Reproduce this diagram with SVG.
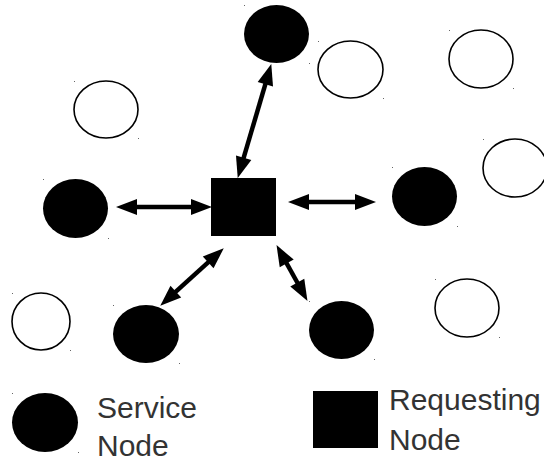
<svg xmlns="http://www.w3.org/2000/svg" width="544" height="462" viewBox="0 0 544 462">
  <style>
    .svc { fill: #000; }
    .idle { fill: #fff; stroke: #000; stroke-width: 1.6; }
    .req { fill: #000; }
    .dot { fill: #666; }
    .link { stroke: #000; stroke-width: 4.5; fill: none; marker-start: url(#head); marker-end: url(#head); }
    .label { font-family: "Liberation Sans", Arial, sans-serif; font-size: 30px; fill: #333; }
  </style>
  <defs>
    <marker id="head" markerUnits="userSpaceOnUse" markerWidth="22" markerHeight="18" refX="10" refY="0" viewBox="0 -9 22 18" orient="auto-start-reverse" overflow="visible">
      <path d="M0,-8 L21,0 L0,8 z" fill="#000"/>
    </marker>
  </defs>
  <rect width="544" height="462" fill="#fff"/>

  <!-- connectors: double-headed links from the requesting node -->
  <g id="connectors">
    <line class="link" x1="240.83" y1="167.41" x2="268.17" y2="74.59"/>
    <line class="link" x1="127" y1="207" x2="201" y2="207"/>
    <line class="link" x1="299" y1="202" x2="365" y2="202"/>
    <line class="link" x1="168.42" y1="298.3" x2="215.58" y2="255.7"/>
    <line class="link" x1="281.86" y1="254.74" x2="302.14" y2="291.26"/>
  </g>

  <!-- requesting node -->
  <g id="requesting">
    <rect class="req" x="211" y="178" width="65" height="58"/>
  </g>

  <!-- service nodes -->
  <g id="service-top">
    <ellipse class="svc" cx="276.5" cy="34" rx="32.5" ry="29"/>
    <rect class="dot" x="244" y="5" width="1" height="1"/><rect class="dot" x="309" y="63" width="1" height="1"/>
  </g>
  <g id="service-left">
    <ellipse class="svc" cx="75.5" cy="208.5" rx="32.5" ry="29.5"/>
    <rect class="dot" x="43" y="179" width="1" height="1"/><rect class="dot" x="108" y="238" width="1" height="1"/>
  </g>
  <g id="service-right">
    <ellipse class="svc" cx="424.5" cy="196.5" rx="32.5" ry="29.5"/>
    <rect class="dot" x="392" y="167" width="1" height="1"/><rect class="dot" x="457" y="226" width="1" height="1"/>
  </g>
  <g id="service-bottom-left">
    <ellipse class="svc" cx="146" cy="334" rx="33" ry="29"/>
    <rect class="dot" x="113" y="305" width="1" height="1"/><rect class="dot" x="179" y="363" width="1" height="1"/>
  </g>
  <g id="service-bottom-right">
    <ellipse class="svc" cx="341.5" cy="330" rx="32.5" ry="29"/>
    <rect class="dot" x="309" y="301" width="1" height="1"/><rect class="dot" x="374" y="359" width="1" height="1"/>
  </g>

  <!-- other nodes -->
  <g id="node-top-middle">
    <ellipse class="idle" cx="350.5" cy="69.5" rx="32.5" ry="28.5"/>
    <rect class="dot" x="318" y="41" width="1" height="1"/><rect class="dot" x="383" y="98" width="1" height="1"/>
  </g>
  <g id="node-top-right">
    <ellipse class="idle" cx="481" cy="59" rx="32" ry="29"/>
    <rect class="dot" x="449" y="30" width="1" height="1"/><rect class="dot" x="513" y="88" width="1" height="1"/>
  </g>
  <g id="node-top-left">
    <ellipse class="idle" cx="106" cy="109.5" rx="32" ry="28.5"/>
    <rect class="dot" x="74" y="81" width="1" height="1"/><rect class="dot" x="138" y="138" width="1" height="1"/>
  </g>
  <g id="node-right-edge">
    <ellipse class="idle" cx="515" cy="168" rx="32" ry="29"/>
    <rect class="dot" x="483" y="139" width="1" height="1"/>
  </g>
  <g id="node-lower-left">
    <ellipse class="idle" cx="41" cy="321.5" rx="29" ry="28.5"/>
    <rect class="dot" x="12" y="293" width="1" height="1"/><rect class="dot" x="70" y="350" width="1" height="1"/>
  </g>
  <g id="node-lower-right">
    <ellipse class="idle" cx="467" cy="308" rx="32" ry="29"/>
    <rect class="dot" x="435" y="279" width="1" height="1"/><rect class="dot" x="499" y="337" width="1" height="1"/>
  </g>

  <!-- legend -->
  <g id="legend-service">
    <ellipse class="svc" cx="45" cy="422.5" rx="33" ry="29.5"/>
    <rect class="dot" x="12" y="393" width="1" height="1"/><rect class="dot" x="78" y="452" width="1" height="1"/>
    <text class="label" x="97" y="418">Service</text>
    <text class="label" x="97" y="456">Node</text>
  </g>
  <g id="legend-requesting">
    <rect class="req" x="313" y="391" width="65" height="57"/>
    <text class="label" x="389" y="410">Requesting</text>
    <text class="label" x="389" y="450">Node</text>
  </g>
</svg>
